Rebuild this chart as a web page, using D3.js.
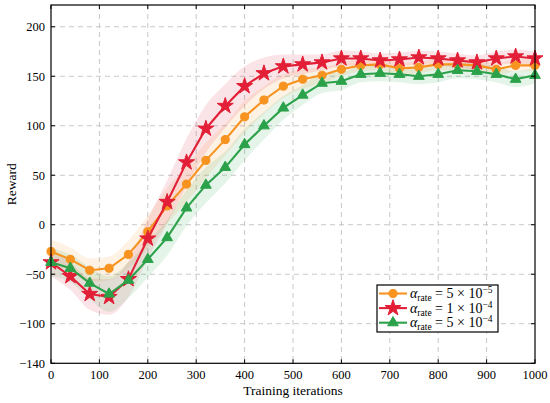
<!DOCTYPE html>
<html>
<head>
<meta charset="utf-8">
<script src="https://cdn.jsdelivr.net/npm/d3@7"></script>
<style>
  body { margin: 0; background: #fff; }
  text { font-family: "Liberation Serif", "Times New Roman", serif; }
</style>
</head>
<body>
<svg id="chart" width="550" height="403"></svg>
<script>
'use strict';

// iterations where markers sit
var iters = d3.range(0, 1001, 40);

var rewardSlow = [-27, -35, -46, -44, -30, -7, 19, 41, 65, 86, 109, 126, 140, 147, 151, 157, 161, 162, 158, 159, 162, 162, 161, 157, 161, 161];
var rewardMid = [-38, -52, -70, -73, -55, -14, 23, 63, 97, 120, 140, 153, 160, 162, 164, 168, 168, 166, 167, 169, 168, 166, 164, 168, 170, 168];
var rewardFast = [-38, -44, -59, -70, -56, -35, -13, 17, 40, 58, 81, 100, 118, 131, 143, 145, 152, 153, 152, 150, 152, 156, 155, 152, 147, 151];

// rough half-spread of the raw (unsmoothed) traces
var spreadSlow = [12, 12, 12, 12, 14, 16, 18, 18, 18, 16, 16, 14, 12, 10, 8, 7, 6, 6, 6, 6, 6, 6, 6, 6, 6, 6];
var spreadMid = [14, 14, 16, 18, 18, 20, 22, 24, 24, 22, 20, 16, 12, 10, 8, 8, 7, 7, 7, 7, 7, 7, 7, 7, 7, 7];
var spreadFast = [14, 14, 16, 18, 18, 18, 18, 18, 18, 16, 16, 14, 12, 10, 10, 9, 8, 8, 8, 8, 8, 8, 8, 8, 8, 8];

var xTicks = [0, 100, 200, 300, 400, 500, 600, 700, 800, 900, 1000];
var yTicks = [-140, -100, -50, 0, 50, 100, 150, 200];

var series = [
  { name: '5', pow: '−5', values: rewardSlow, spread: spreadSlow, color: '#f7931e', marker: 'circle' },
  { name: '1', pow: '−4', values: rewardMid, spread: spreadMid, color: '#e21f36', marker: 'star' },
  { name: '5', pow: '−4', values: rewardFast, spread: spreadFast, color: '#2ba24a', marker: 'triangle' }
];

var FONT = 'Liberation Serif, Times New Roman, serif';
var svg = d3.select('#chart');
var pLeft = 51, pRight = 535, pTop = 5, pBottom = 363.3;

var x = d3.scaleLinear().domain([0, 1000]).range([pLeft, pRight]);
var y = d3.scaleLinear().domain([-140, 222]).range([pBottom, pTop]);

// grid
var grid = svg.append('g').attr('stroke', '#c8c8c8').attr('stroke-dasharray', '5,4').attr('stroke-width', 1);
xTicks.slice(1, -1).forEach(function(t) {
  grid.append('line').attr('x1', x(t)).attr('x2', x(t)).attr('y1', pTop).attr('y2', pBottom);
});
yTicks.slice(1).forEach(function(t) {
  grid.append('line').attr('x1', pLeft).attr('x2', pRight).attr('y1', y(t)).attr('y2', y(t));
});

// raw spread bands
series.forEach(function(s) {
  var band = d3.area()
    .x(function(d, i) { return x(iters[i]); })
    .y0(function(d, i) { return y(d - s.spread[i]); })
    .y1(function(d, i) { return y(d + s.spread[i]); })
    .curve(d3.curveMonotoneX);
  svg.append('path').datum(s.values).attr('d', band)
    .attr('fill', s.color).attr('opacity', 0.12);
});

var line = d3.line()
  .x(function(d, i) { return x(iters[i]); })
  .y(function(d) { return y(d); });

function symbolFor(kind) {
  if (kind === 'star') return d3.symbol().type(d3.symbolStar).size(80)();
  if (kind === 'triangle') return d3.symbol().type(d3.symbolTriangle).size(50)();
  return d3.symbol().type(d3.symbolCircle).size(52)();
}

series.forEach(function(s) {
  svg.append('path').datum(s.values).attr('d', line)
    .attr('fill', 'none').attr('stroke', s.color).attr('stroke-width', 2.1);
  svg.append('g').selectAll('path').data(s.values).join('path')
    .attr('d', symbolFor(s.marker))
    .attr('transform', function(d, i) { return 'translate(' + x(iters[i]) + ',' + y(d) + ')'; })
    .attr('fill', s.color).attr('stroke', s.color).attr('stroke-width', 1);
});

// frame and inward ticks
svg.append('rect').attr('x', pLeft).attr('y', pTop).attr('width', pRight - pLeft).attr('height', pBottom - pTop)
  .attr('fill', 'none').attr('stroke', '#000').attr('stroke-width', 1.2);
var tk = svg.append('g').attr('stroke', '#000').attr('stroke-width', 1);
xTicks.forEach(function(t) {
  tk.append('line').attr('x1', x(t)).attr('x2', x(t)).attr('y1', pBottom).attr('y2', pBottom - 4);
  tk.append('line').attr('x1', x(t)).attr('x2', x(t)).attr('y1', pTop).attr('y2', pTop + 4);
});
yTicks.forEach(function(t) {
  tk.append('line').attr('x1', pLeft).attr('x2', pLeft + 4).attr('y1', y(t)).attr('y2', y(t));
  tk.append('line').attr('x1', pRight).attr('x2', pRight - 4).attr('y1', y(t)).attr('y2', y(t));
});

// tick labels
svg.append('g').selectAll('text').data(xTicks).join('text')
  .attr('font-family', FONT)
  .attr('x', function(d) { return x(d); }).attr('y', pBottom + 16)
  .attr('text-anchor', 'middle').attr('font-size', 12.5).text(function(d) { return d; });
svg.append('g').selectAll('text').data(yTicks).join('text')
  .attr('font-family', FONT)
  .attr('x', pLeft - 6).attr('y', function(d) { return y(d) + 4.5; })
  .attr('text-anchor', 'end').attr('font-size', 12.5)
  .text(function(d) { return d < 0 ? '−' + Math.abs(d) : d; });

svg.append('text').attr('font-family', FONT).attr('x', (pLeft + pRight) / 2).attr('y', 395)
  .attr('text-anchor', 'middle').attr('font-size', 13.5).text('Training iterations');
svg.append('text').attr('font-family', FONT).attr('transform', 'translate(16,' + (pTop + pBottom) / 2 + ') rotate(-90)')
  .attr('text-anchor', 'middle').attr('font-size', 13.5).text('Reward');

// legend
var lg = svg.append('g').attr('transform', 'translate(377,285)');
lg.append('rect').attr('width', 121).attr('height', 47)
  .attr('fill', '#fff').attr('stroke', '#000').attr('stroke-width', 1.2);
series.forEach(function(s, i) {
  var row = lg.append('g').attr('transform', 'translate(0,' + (8.5 + i * 14.6) + ')');
  row.append('line').attr('x1', 2).attr('x2', 30).attr('stroke', s.color).attr('stroke-width', 2.1);
  row.append('path').attr('d', symbolFor(s.marker)).attr('transform', 'translate(16,0)')
    .attr('fill', s.color).attr('stroke', s.color).attr('stroke-width', 1);
  var t = row.append('text').attr('font-family', FONT).attr('x', 33).attr('y', 4.5).attr('font-size', 14);
  t.append('tspan').attr('font-style', 'italic').text('α');
  t.append('tspan').attr('font-size', 9.5).attr('dy', 3).text('rate');
  t.append('tspan').attr('dy', -3).text(' = ' + s.name + ' × 10');
  t.append('tspan').attr('font-size', 9.5).attr('dy', -5).text(s.pow);
});
</script>
</body>
</html>
